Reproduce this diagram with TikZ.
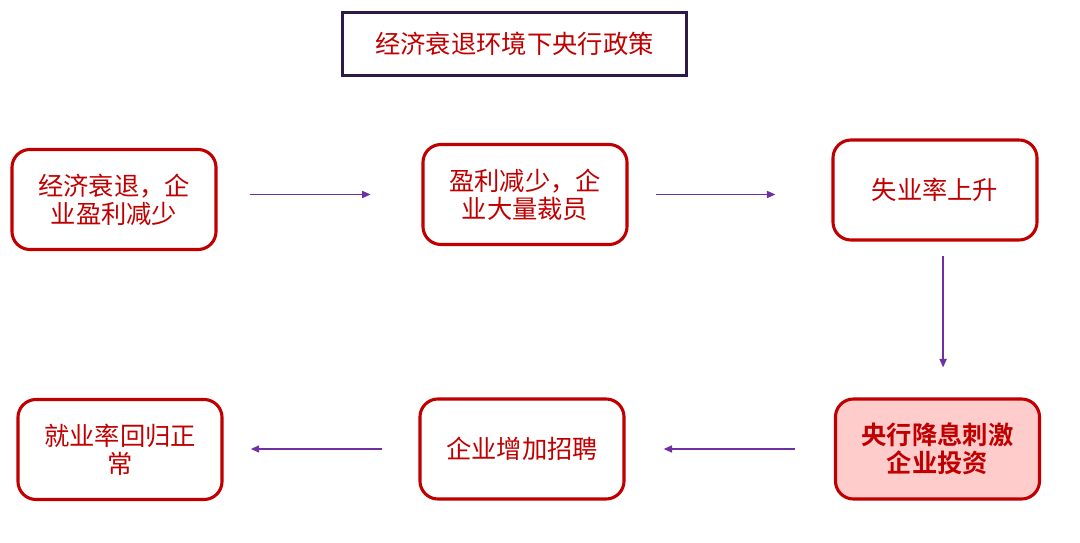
\documentclass[tikz,border=0pt]{standalone}
\usepackage{fontspec}
\setmainfont{Noto Sans CJK SC}[BoldFont={Noto Sans CJK SC Bold}]
\definecolor{boxred}{HTML}{C00000}
\definecolor{titleframe}{HTML}{2E1A47}
\definecolor{flowpurple}{HTML}{7030A0}
\definecolor{pinkfill}{HTML}{FFCCCC}
\usetikzlibrary{arrows.meta,positioning}

\begin{document}
\begin{tikzpicture}[x=0.025cm, y=-0.025cm, >={Triangle[length=6pt,width=5pt]},
    font=\fontsize{18}{20}\selectfont,
    stepbox/.style={draw=boxred, line width=2.2pt, rounded corners=0.45cm, text=boxred,
      align=center, minimum width=5.1cm, minimum height=2.5cm, inner sep=2pt},
    flow/.style={->, flowpurple, line width=1.1pt}]
  \useasboundingbox (0,0) rectangle (1080,543);

  % Title
  \node[draw=titleframe, line width=2.2pt, text=boxred, minimum width=8.6cm, minimum height=1.58cm]
    (title) at (514.5,44) {经济衰退环境下央行政策};

  % Top row
  \node[stepbox] (recess) at (114,199.5) {经济衰退，企\\业盈利减少};
  \node[stepbox] (layoff) at (525,194.5) {盈利减少，企\\业大量裁员};
  \node[stepbox] (jobless) at (935,190) {失业率上升};

  % Bottom row
  \node[stepbox, fill=pinkfill, font=\fontsize{18}{20}\selectfont\bfseries] (ratecut) at (937.5,449) {央行降息刺激\\企业投资};
  \node[stepbox] (hiring) at (522,449) {企业增加招聘};
  \node[stepbox] (normal) at (120,449.5) {就业率回归正\\常};

  % Arrows
  \draw[flow, shorten <=0.8cm, shorten >=1.27cm] (recess.east |- layoff.west) -- (layoff.west);
  \draw[flow, shorten <=0.68cm, shorten >=1.4cm] (layoff.east) -- (layoff.east -| jobless.west);
  \draw[flow, shorten <=0.35cm, shorten >=0.75cm] ([xshift=0.14cm]jobless.south -| ratecut.north) -- ([xshift=0.14cm]ratecut.north);
  \draw[flow, shorten <=0.98cm, shorten >=0.95cm] (ratecut.west) -- (hiring.east);
  \draw[flow, shorten <=0.9cm, shorten >=0.68cm] (hiring.west) -- (hiring.west -| normal.east);
\end{tikzpicture}
\end{document}
